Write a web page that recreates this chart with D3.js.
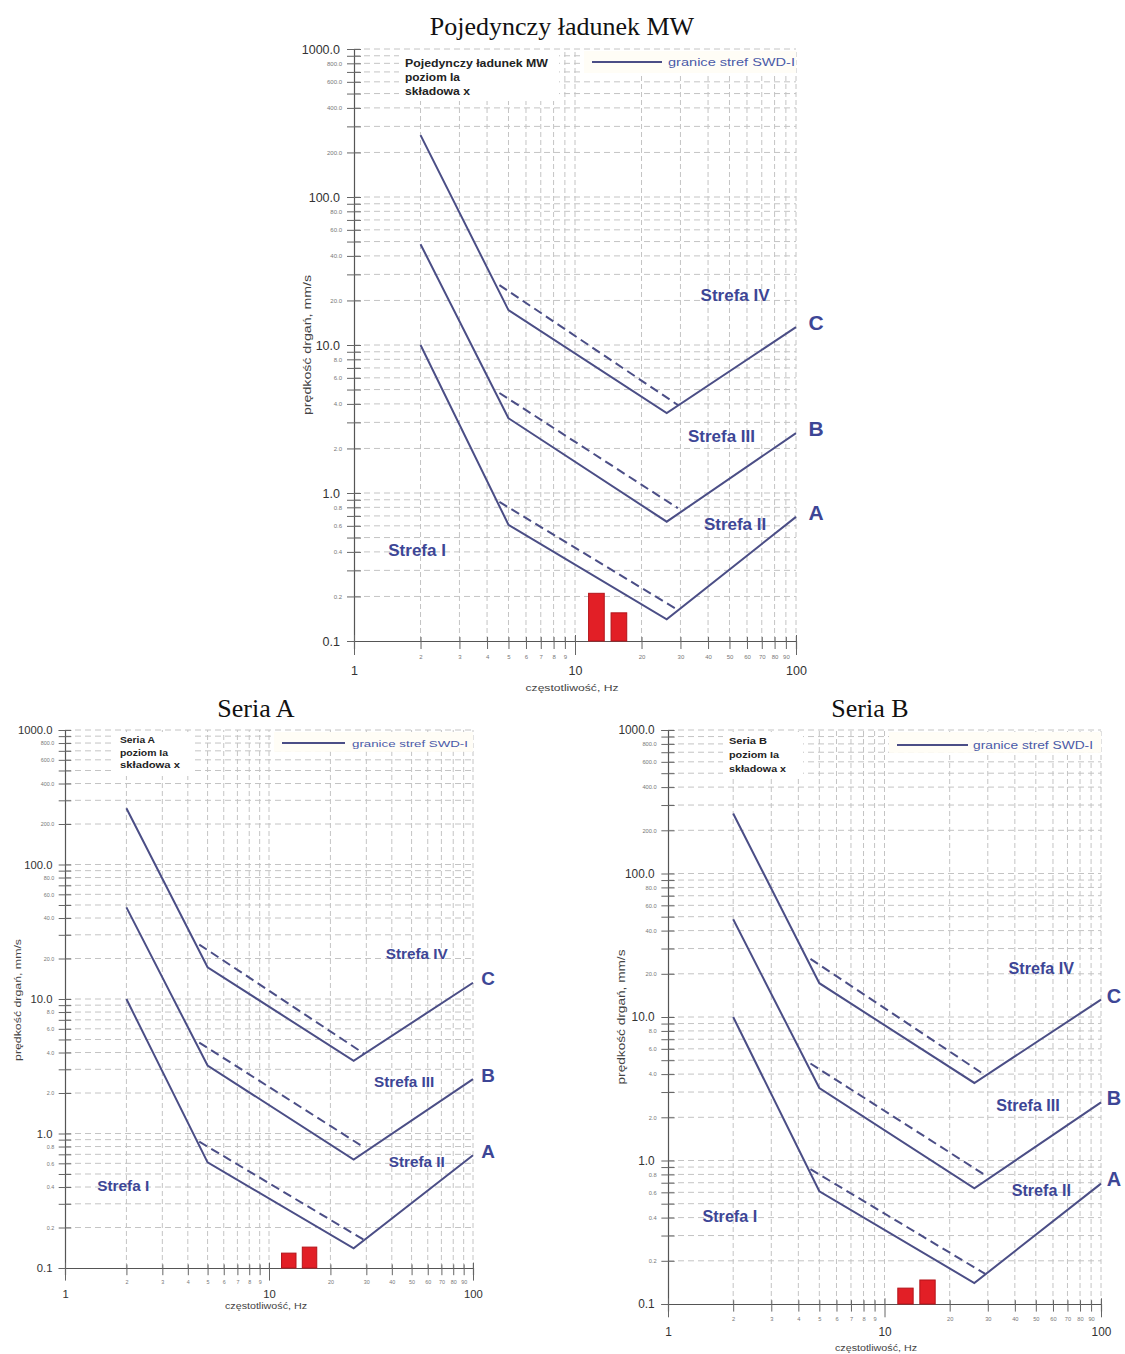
<!DOCTYPE html>
<html>
<head>
<meta charset="utf-8">
<script src="https://cdn.jsdelivr.net/npm/d3@7"></script>
<style>
  body { margin: 0; background: #fff; }
  text { font-family: "Liberation Sans", Arial, sans-serif; }
</style>
</head>
<body>
<svg id="chart" width="1125" height="1354"></svg>
<script>
// SWD-I zone boundaries: breakpoints (Hz) and velocities (mm/s)
const bendFreq = [2, 5, 26, 100];
const lineA = [10, 0.61, 0.14, 0.69];
const lineB = [48, 3.2, 0.64, 2.54];
const lineC = [262, 17.2, 3.47, 13.2];

// dashed companion segments
const dashFreq = [4.55, 29.2];
const dashA = [0.87, 0.162];
const dashB = [4.74, 0.79];
const dashC = [25.4, 3.93];

// measured peaks (red bars)
const barFreq = [12.5, 15.8];
const barMW = [0.21, 0.155];
const barSeriaA = [0.129, 0.143];
const barSeriaB = [0.129, 0.147];

// ticks
const freqTicks = [1, 2, 3, 4, 5, 6, 7, 8, 9, 10, 20, 30, 40, 50, 60, 70, 80, 90, 100];
const freqBig = [1, 10, 100];
const velTicks = [0.1, 0.2, 0.3, 0.4, 0.5, 0.6, 0.7, 0.8, 0.9,
                  1, 2, 3, 4, 5, 6, 7, 8, 9,
                  10, 20, 30, 40, 50, 60, 70, 80, 90,
                  100, 200, 300, 400, 500, 600, 700, 800, 900, 1000];
const velLabels = [0.1, 0.2, 0.4, 0.6, 0.8, 1, 2, 4, 6, 8, 10, 20, 40, 60, 80,
                   100, 200, 400, 600, 800, 1000];
const velBig = [0.1, 1, 10, 100, 1000];

const zoneNames = ["Strefa I", "Strefa II", "Strefa III", "Strefa IV"];
const lineNames = ["A", "B", "C"];

const lineColor = "#4b4e86";
const zoneColor = "#3d4696";
const gridColor = "#c4c4c4";

const svg = d3.select("#chart");

function drawPanel(p) {
  const k = p.k;
  const x = d3.scaleLog().domain([1, 100]).range([p.x0, p.x1]);
  const y = d3.scaleLog().domain([0.1, 1000]).range([p.yBot, p.yTop]);
  const g = svg.append("g");

  // grid
  g.append("g").selectAll("line")
    .data(freqTicks.slice(1))
    .enter().append("line")
    .attr("x1", d => x(d)).attr("x2", d => x(d))
    .attr("y1", p.yBot).attr("y2", p.yTop)
    .attr("stroke", gridColor).attr("stroke-width", 1)
    .attr("stroke-dasharray", "5,3");
  g.append("g").selectAll("line")
    .data(velTicks.slice(1))
    .enter().append("line")
    .attr("x1", p.x0).attr("x2", p.x1)
    .attr("y1", d => y(d)).attr("y2", d => y(d))
    .attr("stroke", gridColor).attr("stroke-width", 1)
    .attr("stroke-dasharray", "6,4");

  // white boxes behind the info text
  g.append("rect")
    .attr("x", p.info.x - 6).attr("y", p.yTop + 2)
    .attr("width", p.info.w).attr("height", p.info.h)
    .attr("fill", "#fff");
  g.append("rect")
    .attr("x", p.leg.x0 - 8).attr("y", p.yTop + 2)
    .attr("width", p.x1 - p.leg.x0 + 8).attr("height", 22 * k)
    .attr("fill", "#fffdf6");

  // y axis
  const yAxis = d3.axisLeft(y).tickValues(velTicks).tickSize(7 * k)
    .tickFormat(d => velLabels.includes(d) ? d.toFixed(1) : "");
  const ya = g.append("g").attr("transform", `translate(${p.x0},0)`).call(yAxis);
  ya.select(".domain").attr("stroke", "#555").attr("stroke-width", 1.2);
  ya.selectAll(".tick line").attr("x1", 7 * k).attr("stroke", "#666");
  ya.selectAll(".tick text")
    .attr("x", d => velBig.includes(d) ? -14 * k : -12 * k)
    .attr("fill", d => velBig.includes(d) ? "#333" : "#777")
    .style("font-size", d => velBig.includes(d) ? (12.5 * k) + "px" : (6 * k) + "px")
    .style("font-family", "'Liberation Sans', Arial, sans-serif");

  // x axis
  const xAxis = d3.axisBottom(x).tickValues(freqTicks).tickSize(8 * k)
    .tickFormat(d => String(d));
  const xa = g.append("g").attr("transform", `translate(0,${p.yBot})`).call(xAxis);
  xa.select(".domain").attr("stroke", "#555").attr("stroke-width", 1.2);
  xa.selectAll(".tick line")
    .attr("y1", d => freqBig.includes(d) ? -6 * k : -4 * k)
    .attr("y2", d => freqBig.includes(d) ? 14 * k : 8 * k)
    .attr("stroke", "#666");
  xa.selectAll(".tick text")
    .attr("y", d => freqBig.includes(d) ? 25 * k : 14 * k)
    .attr("fill", d => freqBig.includes(d) ? "#333" : "#777")
    .style("font-size", d => freqBig.includes(d) ? (12.5 * k) + "px" : (6 * k) + "px")
    .style("font-family", "'Liberation Sans', Arial, sans-serif");

  // axis titles
  g.append("text")
    .attr("x", p.xl.x).attr("y", p.xl.y)
    .attr("text-anchor", "middle")
    .attr("textLength", p.xl.w).attr("lengthAdjust", "spacingAndGlyphs")
    .style("font-size", (9.5 * k) + "px").attr("fill", "#444")
    .text("częstotliwość, Hz");
  g.append("text")
    .attr("transform", `translate(${p.yl.x},${p.yl.y}) rotate(-90)`)
    .attr("text-anchor", "middle")
    .attr("textLength", p.yl.w).attr("lengthAdjust", "spacingAndGlyphs")
    .style("font-size", (11 * k) + "px").attr("fill", "#444")
    .text("prędkość drgań, mm/s");

  // title
  g.append("text")
    .attr("x", p.title.x).attr("y", p.title.y)
    .attr("text-anchor", "middle")
    .style("font-family", "'Liberation Serif', 'Times New Roman', serif")
    .style("font-size", "26px").attr("fill", "#111")
    .text(p.title.text);

  // info block
  p.info.lines.forEach((t, i) => {
    g.append("text")
      .attr("x", p.info.x).attr("y", p.info.y + i * p.info.dy)
      .attr("textLength", p.info.len[i]).attr("lengthAdjust", "spacingAndGlyphs")
      .style("font-size", p.info.fs + "px").style("font-weight", "bold")
      .attr("fill", "#222")
      .text(t);
  });

  // legend
  g.append("line")
    .attr("x1", p.leg.x0).attr("x2", p.leg.x1)
    .attr("y1", p.leg.y).attr("y2", p.leg.y)
    .attr("stroke", lineColor).attr("stroke-width", 1.8);
  g.append("text")
    .attr("x", p.leg.tx).attr("y", p.leg.y + 4 * k)
    .attr("textLength", p.leg.tw).attr("lengthAdjust", "spacingAndGlyphs")
    .style("font-size", (11 * k) + "px").attr("fill", "#4a5aa8")
    .text("granice stref SWD-I");

  // bars
  g.append("g").selectAll("rect")
    .data(barFreq.map((f, i) => [f, p.bars[i]]))
    .enter().append("rect")
    .attr("x", d => x(d[0] / 1.085))
    .attr("width", d => x(d[0] * 1.085) - x(d[0] / 1.085))
    .attr("y", d => y(d[1]))
    .attr("height", d => p.yBot - y(d[1]))
    .attr("fill", "#e21f26").attr("stroke", "#b3141a").attr("stroke-width", 1);

  // boundary lines
  const line = d3.line().x(d => x(d[0])).y(d => y(d[1]));
  [lineA, lineB, lineC].forEach((v, i) => {
    g.append("path")
      .attr("d", line(bendFreq.map((f, j) => [f, v[j]])))
      .attr("fill", "none").attr("stroke", lineColor).attr("stroke-width", 2);
  });
  [dashA, dashB, dashC].forEach(v => {
    g.append("path")
      .attr("d", line(dashFreq.map((f, j) => [f, v[j]])))
      .attr("fill", "none").attr("stroke", lineColor).attr("stroke-width", 2)
      .attr("stroke-dasharray", "9,5");
  });

  // line letters at the right ends
  [lineA, lineB, lineC].forEach((v, i) => {
    g.append("text")
      .attr("x", x(100) + p.letterDx).attr("y", y(v[3]) + 3 * k)
      .attr("text-anchor", "middle")
      .style("font-size", (21 * k) + "px").style("font-weight", "bold")
      .attr("fill", zoneColor)
      .text(lineNames[i]);
  });

  // zone labels (anchored in data space)
  const zonePos = [[1.93, 0.41], [53, 0.62], [46, 2.43], [53, 21.8]];
  zoneNames.forEach((t, i) => {
    g.append("text")
      .attr("x", x(zonePos[i][0])).attr("y", y(zonePos[i][1]) + 6 * k)
      .attr("text-anchor", "middle")
      .style("font-size", (17 * k) + "px").style("font-weight", "bold")
      .attr("fill", zoneColor)
      .text(t);
  });
}

drawPanel({
  k: 1, x0: 354, x1: 796, yTop: 49, yBot: 641, letterDx: 20,
  title: { text: "Pojedynczy ładunek MW", x: 562, y: 35 },
  info: { x: 405, y: 67, dy: 14, fs: 10.5, w: 160, h: 50,
          lines: ["Pojedynczy ładunek MW", "poziom Ia", "składowa x"], len: [143, 55, 65] },
  leg: { x0: 592, x1: 662, y: 62, tx: 668, tw: 127 },
  xl: { x: 572, y: 691, w: 93 },
  yl: { x: 311, y: 345, w: 140 },
  bars: barMW
});

drawPanel({
  k: 0.9, x0: 65, x1: 473, yTop: 730, yBot: 1268, letterDx: 15,
  title: { text: "Seria A", x: 256, y: 717 },
  info: { x: 120, y: 743, dy: 12.5, fs: 9, w: 80, h: 44,
          lines: ["Seria A", "poziom Ia", "składowa x"], len: [35, 48, 60] },
  leg: { x0: 282, x1: 345, y: 743, tx: 352, tw: 116 },
  xl: { x: 266, y: 1309, w: 82 },
  yl: { x: 21, y: 1000, w: 122 },
  bars: barSeriaA
});

drawPanel({
  k: 0.95, x0: 668, x1: 1101, yTop: 730, yBot: 1304, letterDx: 13,
  title: { text: "Seria B", x: 870, y: 717 },
  info: { x: 729, y: 744, dy: 14, fs: 9, w: 80, h: 46,
          lines: ["Seria B", "poziom Ia", "składowa x"], len: [38, 50, 57] },
  leg: { x0: 897, x1: 968, y: 745, tx: 973, tw: 120 },
  xl: { x: 876, y: 1351, w: 82 },
  yl: { x: 625, y: 1017, w: 135 },
  bars: barSeriaB
});
</script>
</body>
</html>
